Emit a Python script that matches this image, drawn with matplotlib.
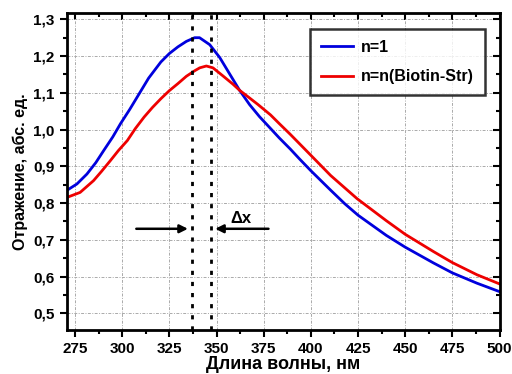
import matplotlib
matplotlib.use("Agg")
import matplotlib.pyplot as plt
from matplotlib.ticker import MultipleLocator, FuncFormatter

plt.rcParams['font.family'] = ['Liberation Sans', 'DejaVu Sans']
plt.rcParams['font.weight'] = 'bold'

wl_blue = [270.5, 276, 281.3, 286, 290.2, 295, 299.1, 304, 308, 314, 320.5, 325, 329.5,
           334, 338.4, 341, 346.4, 351.7, 357, 362.2, 367.5, 372.8, 378.6, 383.3,
           389.1, 394, 400, 410.5, 418, 425, 440, 450, 465, 475, 488, 500]
refl_blue = [0.834, 0.852, 0.879, 0.91, 0.943, 0.98, 1.016, 1.055, 1.089, 1.14, 1.184,
             1.207, 1.225, 1.24, 1.25, 1.25, 1.231, 1.196, 1.151, 1.107, 1.068, 1.035,
             1.003, 0.977, 0.947, 0.92, 0.888, 0.835, 0.798, 0.767, 0.712, 0.68, 0.637,
             0.61, 0.582, 0.559]
wl_red = [270.5, 277.7, 284.8, 289, 293.8, 298, 302.7, 307, 311.6, 316, 320.5, 325,
          329.5, 334, 338.4, 341.1, 344.6, 348.1, 353.4, 358.6, 362.2, 367.5, 372,
          378.6, 383.5, 389.1, 400, 410.5, 424.5, 440, 450, 465, 475, 488, 500]
refl_red = [0.815, 0.829, 0.861, 0.886, 0.916, 0.943, 0.97, 1.003, 1.034, 1.06, 1.084,
            1.106, 1.125, 1.145, 1.16, 1.168, 1.173, 1.168, 1.146, 1.124, 1.107, 1.086,
            1.068, 1.040, 1.015, 0.987, 0.93, 0.875, 0.812, 0.752, 0.715, 0.668, 0.638,
            0.605, 0.58]
peak_lines = [337, 347]
labels = ['n=1', 'n=n(Biotin-Str)']

fig = plt.figure(figsize=(5.12, 3.74), dpi=100)
ax = fig.add_axes([0.130, 0.1176, 0.8456, 0.8484])

ax.plot(wl_blue, refl_blue, color='#0000dd', lw=2, label=labels[0])
ax.plot(wl_red, refl_red, color='#ee0000', lw=2, label=labels[1])
for x in peak_lines:
    ax.axvline(x, color='black', lw=2, ls=(0, (1.5, 2.5)))

ax.annotate('', xy=(336.3, 0.730), xytext=(306, 0.730),
            arrowprops=dict(arrowstyle='-|>', color='black', lw=1.8, mutation_scale=12))
ax.annotate('', xy=(347.8, 0.730), xytext=(379, 0.730),
            arrowprops=dict(arrowstyle='-|>', color='black', lw=1.8, mutation_scale=12))
ax.text(363, 0.738, 'Δx', fontsize=12, fontweight='bold', ha='center', va='bottom')

ax.set_xlim(270.5, 500)
ax.set_ylim(0.4545, 1.318)
ax.xaxis.set_major_locator(MultipleLocator(25))
ax.xaxis.set_minor_locator(MultipleLocator(12.5))
ax.yaxis.set_major_locator(MultipleLocator(0.1))
ax.yaxis.set_minor_locator(MultipleLocator(0.05))
ax.yaxis.set_major_formatter(FuncFormatter(lambda v, p: f'{v:.1f}'.replace('.', ',')))
ax.grid(True, which='major', color='#aaaaaa', ls=(0, (3, 1.5, 1, 1.5)), lw=0.7)

ax.tick_params(which='both', width=1.5, labelsize=11, direction='out')
ax.tick_params(which='major', length=5)
ax.tick_params(which='minor', length=3)
ax.tick_params(axis='x', which='both', top=True)
ax.tick_params(axis='y', which='both', right=True)
for s in ax.spines.values():
    s.set_linewidth(2)
# top/right ticks point inward
for t in ax.xaxis.get_major_ticks() + ax.xaxis.get_minor_ticks():
    t.tick2line.set_marker(3)
for t in ax.yaxis.get_major_ticks() + ax.yaxis.get_minor_ticks():
    t.tick2line.set_marker(0)

ax.set_xlabel('Длина волны, нм', fontsize=13, fontweight='bold', labelpad=0)
ax.set_ylabel('Отражение, абс. ед.', fontsize=11.5, fontweight='bold', labelpad=4)

leg = ax.legend(loc='upper right', bbox_to_anchor=(0.985, 0.975), fontsize=11.5,
                frameon=True, fancybox=False, edgecolor='black', handlelength=2.0,
                handletextpad=0.5, borderpad=0.7, labelspacing=0.9)
leg.get_frame().set_linewidth(1.8)
for t in leg.get_texts():
    t.set_fontweight('bold')

fig.savefig('out.png', dpi=100)
